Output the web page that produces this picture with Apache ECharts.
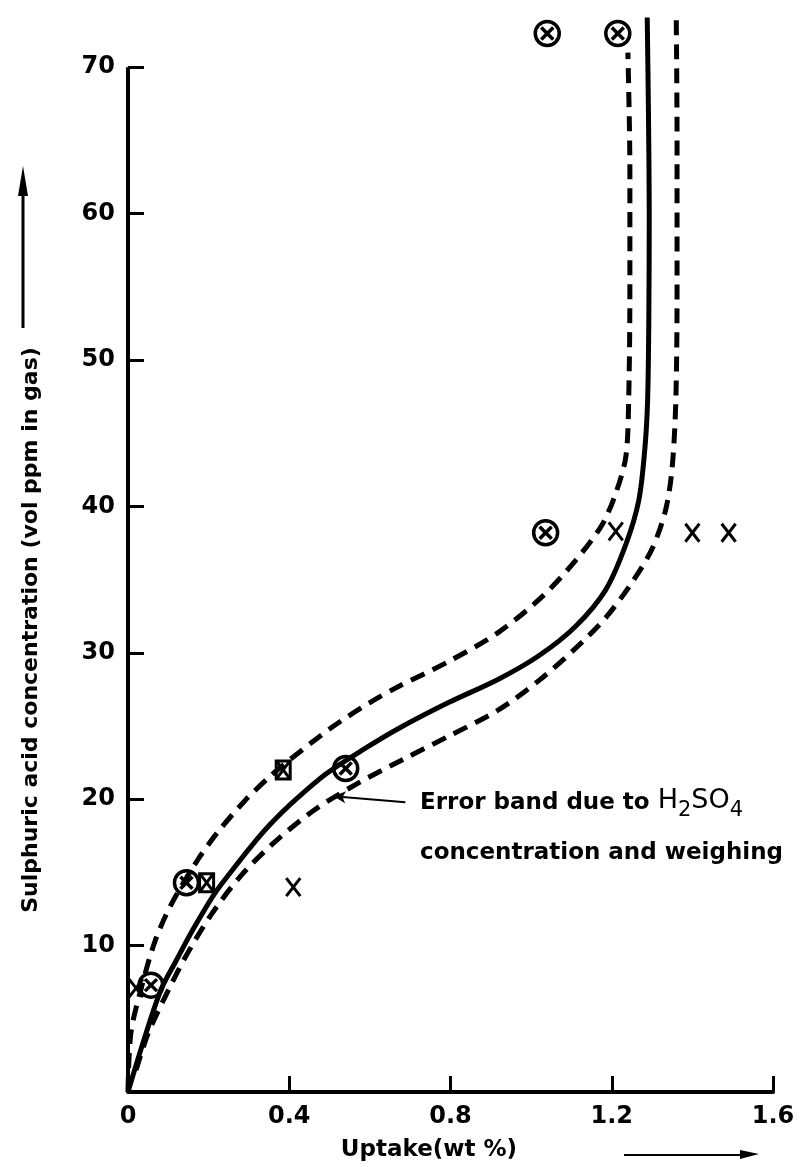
<!DOCTYPE html>
<html>
<head>
<meta charset="utf-8">
<title>Uptake</title>
<script src="https://cdn.jsdelivr.net/npm/echarts@6/dist/echarts.min.js"></script>
<style>
    html, body { margin: 0; padding: 0; background: #fff; }
    #main { width: 800px; height: 1167px; }
</style>
</head>
<body>
<div id="main"></div>
<script>
// tick labels
var xTicks = [0, 0.4, 0.8, 1.2, 1.6];
var yTicks = [10, 20, 30, 40, 50, 60, 70];

// fitted curve (uptake, ppm)
var centreLine = [[0, 0], [0.04, 3.6], [0.082, 7.0], [0.12, 9.0], [0.157, 10.9], [0.216, 13.6], [0.26, 15.2],
    [0.306, 16.8], [0.35, 18.2], [0.397, 19.5], [0.49, 21.7], [0.59, 23.5], [0.669, 24.8], [0.795, 26.6],
    [0.919, 28.2], [1.019, 29.8], [1.11, 31.8], [1.185, 34.3], [1.235, 37.4], [1.267, 40.4], [1.282, 43.9],
    [1.289, 47.3], [1.292, 53], [1.293, 60], [1.291, 67], [1.288, 73.4]];

// error band
var bandUpper = [[0, 0], [0.007, 4.0], [0.032, 7.0], [0.067, 10.3], [0.107, 12.8], [0.174, 15.9], [0.224, 17.8],
    [0.29, 19.9], [0.35, 21.5], [0.397, 22.6], [0.505, 24.9], [0.6, 26.6], [0.671, 27.7], [0.795, 29.4],
    [0.919, 31.4], [1.026, 33.8], [1.11, 36.3], [1.175, 38.7], [1.21, 40.9], [1.235, 43.4], [1.242, 47.3],
    [1.245, 55], [1.245, 63], [1.24, 71]];
var bandLower = [[0.02, 1.5], [0.05, 4.0], [0.092, 6.5], [0.142, 9.2], [0.206, 12.1], [0.281, 14.8], [0.365, 17.1],
    [0.464, 19.3], [0.571, 21.1], [0.688, 22.8], [0.795, 24.3], [0.919, 26.1], [1.019, 28.1], [1.11, 30.3],
    [1.185, 32.4], [1.25, 34.8], [1.30, 37.1], [1.334, 39.8], [1.35, 42.7], [1.359, 47.3], [1.362, 55],
    [1.362, 65], [1.36, 73.4]];

// measured points
var circleCross = [[1.04, 72.3], [1.215, 72.3], [1.036, 38.2], [0.54, 22.1], [0.145, 14.3], [0.057, 7.3]];
var boxCross = [[0.385, 22.0], [0.195, 14.3]];
var crossOnly = [[1.21, 38.3], [1.40, 38.2], [1.49, 38.2], [0.41, 14.0], [0.02, 7.1]];

// leader for the note
var errorArrow = [[0.688, 19.8], [0.51, 20.2]];

var FONT = 'DejaVu Sans';

function drawCircleCross(params, api) {
    var p = api.coord([api.value(0), api.value(1)]);
    var s = { stroke: '#000', lineWidth: 3.5, fill: 'none' };
    return {
        type: 'group',
        children: [
            { type: 'circle', shape: { cx: p[0], cy: p[1], r: 12 }, style: s },
            { type: 'line', shape: { x1: p[0] - 6, y1: p[1] - 6, x2: p[0] + 6, y2: p[1] + 6 }, style: s },
            { type: 'line', shape: { x1: p[0] + 6, y1: p[1] - 6, x2: p[0] - 6, y2: p[1] + 6 }, style: s }
        ]
    };
}

function drawBoxCross(params, api) {
    var p = api.coord([api.value(0), api.value(1)]);
    var s = { stroke: '#000', lineWidth: 3, fill: 'none' };
    return {
        type: 'group',
        children: [
            { type: 'rect', shape: { x: p[0] - 7, y: p[1] - 9, width: 14, height: 18 }, style: s },
            { type: 'line', shape: { x1: p[0] - 6, y1: p[1] - 8, x2: p[0] + 6, y2: p[1] + 8 }, style: s },
            { type: 'line', shape: { x1: p[0] + 6, y1: p[1] - 8, x2: p[0] - 6, y2: p[1] + 8 }, style: s }
        ]
    };
}

function drawCross(params, api) {
    var p = api.coord([api.value(0), api.value(1)]);
    var s = { stroke: '#000', lineWidth: 3 };
    return {
        type: 'group',
        children: [
            { type: 'line', shape: { x1: p[0] - 7, y1: p[1] - 9, x2: p[0] + 7, y2: p[1] + 9 }, style: s },
            { type: 'line', shape: { x1: p[0] + 7, y1: p[1] - 9, x2: p[0] - 7, y2: p[1] + 9 }, style: s }
        ]
    };
}

window.onload = function () {
    var myChart = echarts.init(document.getElementById('main'));

    var option = {
        animation: false,
        backgroundColor: '#fff',
        grid: { left: 128, right: 27, top: 16, bottom: 75 },
        xAxis: {
            type: 'value',
            min: 0,
            max: 1.6,
            axisLine: { show: true, lineStyle: { color: '#000', width: 4 } },
            axisTick: { show: true, inside: true, length: 16, lineStyle: { color: '#000', width: 3 }, customValues: xTicks.slice(1) },
            axisLabel: { color: '#000', fontFamily: FONT, fontWeight: 'bold', fontSize: 24, margin: 13, customValues: xTicks },
            splitLine: { show: false }
        },
        yAxis: {
            type: 'value',
            min: 0,
            max: 73.5,
            interval: 10,
            axisLine: { show: false },
            axisTick: { show: true, inside: true, length: 16, lineStyle: { color: '#000', width: 3 }, customValues: yTicks },
            axisLabel: { color: '#000', fontFamily: FONT, fontWeight: 'bold', fontSize: 24, margin: 13, customValues: yTicks },
            splitLine: { show: false }
        },
        graphic: [
            {
                type: 'text', x: 31, y: 630, rotation: Math.PI / 2,
                style: { text: 'Sulphuric acid concentration (vol ppm in gas)', font: 'bold 22px "DejaVu Sans"', fill: '#000', align: 'center', verticalAlign: 'middle' }
            },
            { type: 'line', shape: { x1: 23, y1: 328, x2: 23, y2: 190 }, style: { stroke: '#000', lineWidth: 3 } },
            { type: 'polygon', shape: { points: [[23, 166], [18, 196], [28, 196]] }, style: { fill: '#000' } },
            {
                type: 'text', x: 429, y: 1150,
                style: { text: 'Uptake(wt %)', font: 'bold 23px "DejaVu Sans"', fill: '#000', align: 'center', verticalAlign: 'middle' }
            },
            { type: 'line', shape: { x1: 624, y1: 1155, x2: 745, y2: 1155 }, style: { stroke: '#000', lineWidth: 2 } },
            { type: 'polygon', shape: { points: [[759, 1154], [740, 1150], [740, 1159]] }, style: { fill: '#000' } },
            {
                type: 'text', x: 420, y: 803,
                style: {
                    text: '{b|Error band due to }{h|H}{s|2}{h|SO}{s|4}',
                    fill: '#000', verticalAlign: 'middle',
                    rich: {
                        b: { fontFamily: FONT, fontSize: 23, fontWeight: 'bold', fill: '#000' },
                        h: { fontFamily: FONT, fontSize: 27, fontWeight: 'normal', fill: '#000', padding: [0, 0, 4, 0] },
                        s: { fontFamily: FONT, fontSize: 21, fontWeight: 'normal', fill: '#000', padding: [16, 0, 0, 0] }
                    }
                }
            },
            {
                type: 'text', x: 420, y: 853,
                style: { text: 'concentration and weighing', font: 'bold 23px "DejaVu Sans"', fill: '#000', verticalAlign: 'middle' }
            }
        ],
        series: [
            {
                // y axis line, stops at the top tick
                type: 'line',
                data: [[0, 0], [0, yTicks[yTicks.length - 1]]],
                showSymbol: false,
                lineStyle: { color: '#000', width: 4 },
                silent: true
            },
            {
                name: 'fit',
                type: 'line',
                data: centreLine,
                smooth: 0.3,
                showSymbol: false,
                lineStyle: { color: '#000', width: 5 },
                markLine: {
                    silent: true,
                    symbol: ['none', 'arrow'],
                    symbolSize: [9, 12],
                    label: { show: false },
                    lineStyle: { color: '#000', width: 2, type: 'solid' },
                    data: [[{ coord: errorArrow[0] }, { coord: errorArrow[1] }]]
                }
            },
            {
                name: 'upper',
                type: 'line',
                data: bandUpper,
                smooth: 0.3,
                showSymbol: false,
                lineStyle: { color: '#000', width: 5, type: [15, 9] }
            },
            {
                name: 'lower',
                type: 'line',
                data: bandLower,
                smooth: 0.3,
                showSymbol: false,
                lineStyle: { color: '#000', width: 5, type: [15, 9] }
            },
            { type: 'custom', data: circleCross, renderItem: drawCircleCross, encode: { x: 0, y: 1 } },
            { type: 'custom', data: boxCross, renderItem: drawBoxCross, encode: { x: 0, y: 1 } },
            { type: 'custom', data: crossOnly, renderItem: drawCross, encode: { x: 0, y: 1 } }
        ]
    };

    myChart.setOption(option);
};
</script>
</body>
</html>
